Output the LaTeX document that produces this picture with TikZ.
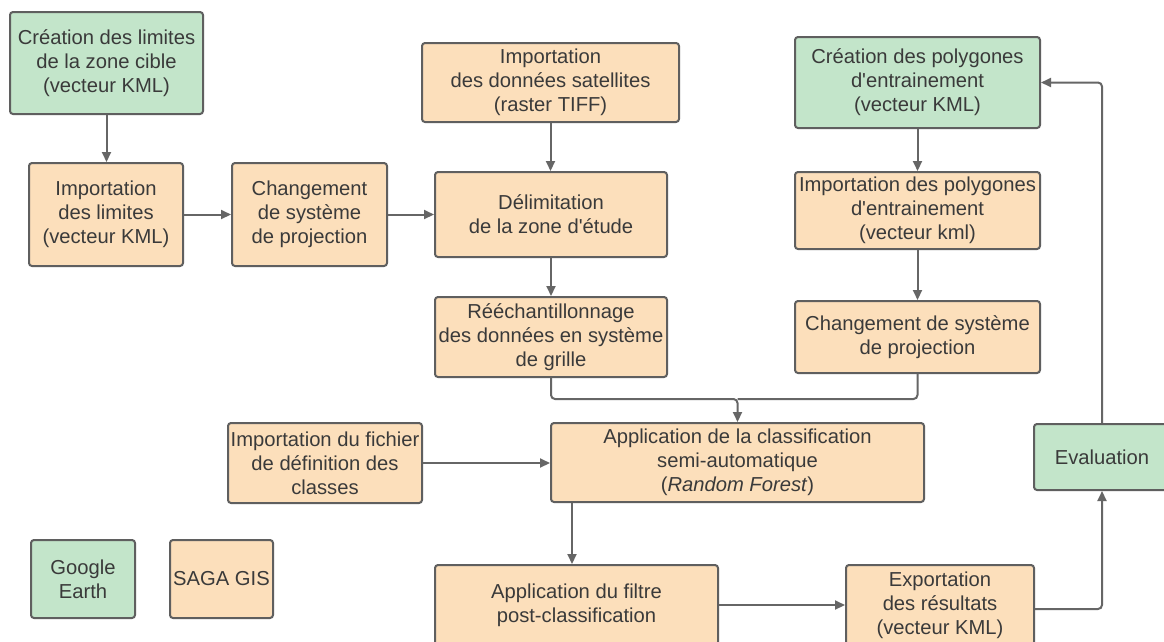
\documentclass[tikz,border=0pt]{standalone}
\usepackage{fontspec}
\setmainfont{Liberation Sans}
\usetikzlibrary{arrows.meta}
\definecolor{greenfill}{HTML}{C3E5CA}
\definecolor{orangefill}{HTML}{FCDFBB}
\definecolor{boxline}{HTML}{5F5F5F}
\definecolor{conn}{HTML}{666666}
\definecolor{txt}{HTML}{3A3A3A}
\newcommand{\ap}{\textquotesingle}
\tikzset{
  box/.style={draw=boxline, line width=2pt, rounded corners=3pt, inner sep=0pt,
    align=center, text=txt, font=\fontsize{20.2}{24}\selectfont},
  gbox/.style={box, fill=greenfill},
  obox/.style={box, fill=orangefill},
  conline/.style={draw=conn, line width=2pt, rounded corners=4pt},
  arr/.style={conline, -{Triangle[length=10pt,width=9pt]}},
}
\begin{document}
\begin{tikzpicture}[x=1pt,y=-1pt]
\useasboundingbox (0,0) rectangle (1164,641);
\clip (0,0) rectangle (1164,641);
\fill[white] (0,0) rectangle (1164,641);
% nodes
\node[gbox, minimum width=193pt, minimum height=102pt] (A) at (106.5,63) {Création des limites\\de la zone cible\\(vecteur KML)};
\node[obox, minimum width=154pt, minimum height=103pt] (B) at (106,214.5) {Importation\\des limites\\(vecteur KML)};
\node[obox, minimum width=155pt, minimum height=103pt] (C) at (309.5,214.5) {Changement\\de système\\de projection};
\node[obox, minimum width=257pt, minimum height=79pt] (D) at (550.5,82.5) {Importation\\des données satellites\\(raster TIFF)};
\node[obox, minimum width=232pt, minimum height=85pt] (E) at (551,214.5) {Délimitation\\de la zone d\ap étude};
\node[gbox, minimum width=245pt, minimum height=91pt] (G) at (917.5,82.5) {Création des polygones\\d\ap entrainement\\(vecteur KML)};
\node[obox, minimum width=245pt, minimum height=77pt] (H) at (917.5,210.5) {Importation des polygones\\d\ap entrainement\\(vecteur kml)};
\node[obox, minimum width=232pt, minimum height=80pt] (F) at (551,337) {Rééchantillonnage\\des données en système\\de grille};
\node[obox, minimum width=245pt, minimum height=72pt] (H2) at (917.5,337) {Changement de système\\de projection};
\node[obox, minimum width=194pt, minimum height=80pt] (I) at (325,463) {Importation du fichier\\de définition des\\classes};
\node[obox, minimum width=373pt, minimum height=79pt] (J) at (737.5,462.5) {Application de la classification\\semi-automatique\\(\textit{Random Forest})};
\node[obox, minimum width=283pt, minimum height=80pt] (K) at (576.5,605) {Application du filtre\\post-classification};
\node[obox, minimum width=188pt, minimum height=80pt] (L) at (940,605) {Exportation\\des résultats\\(vecteur KML)};
\node[gbox, minimum width=136pt, minimum height=66pt] (M) at (1102,457) {Evaluation};
\node[gbox, minimum width=104pt, minimum height=78pt] (GE) at (83,579) {Google\\Earth};
\node[obox, minimum width=103pt, minimum height=78pt] (SG) at (221.5,579) {SAGA GIS};
% connectors
\draw[arr] (A.south) -- (A.south |- B.north);
\draw[arr] (B.east) -- (C.west);
\draw[arr] (C.east) -- (E.west);
\draw[arr] (D.south) -- (D.south |- E.north);
\draw[arr] (E.south) -- (F.north);
\draw[arr] (G.south) -- (H.north);
\draw[arr] (H.south) -- (H2.north);
\coordinate (m) at (737.5,399);
\draw[arr] (F.south) |- (m) -- (J.north);
\draw[conline] (H2.south) |- (m);
\draw[arr] (I.east) -- (I.east -| J.west);
\coordinate (jk) at ([xshift=22pt]J.south west);
\draw[arr] (jk) -- (jk |- K.north);
\draw[arr] (K.east) -- (K.east -| L.west);
\draw[arr] ([yshift=-4pt]L.east) -| (M.south);
\draw[arr] (M.north) |- (G.east);
\end{tikzpicture}
\end{document}
